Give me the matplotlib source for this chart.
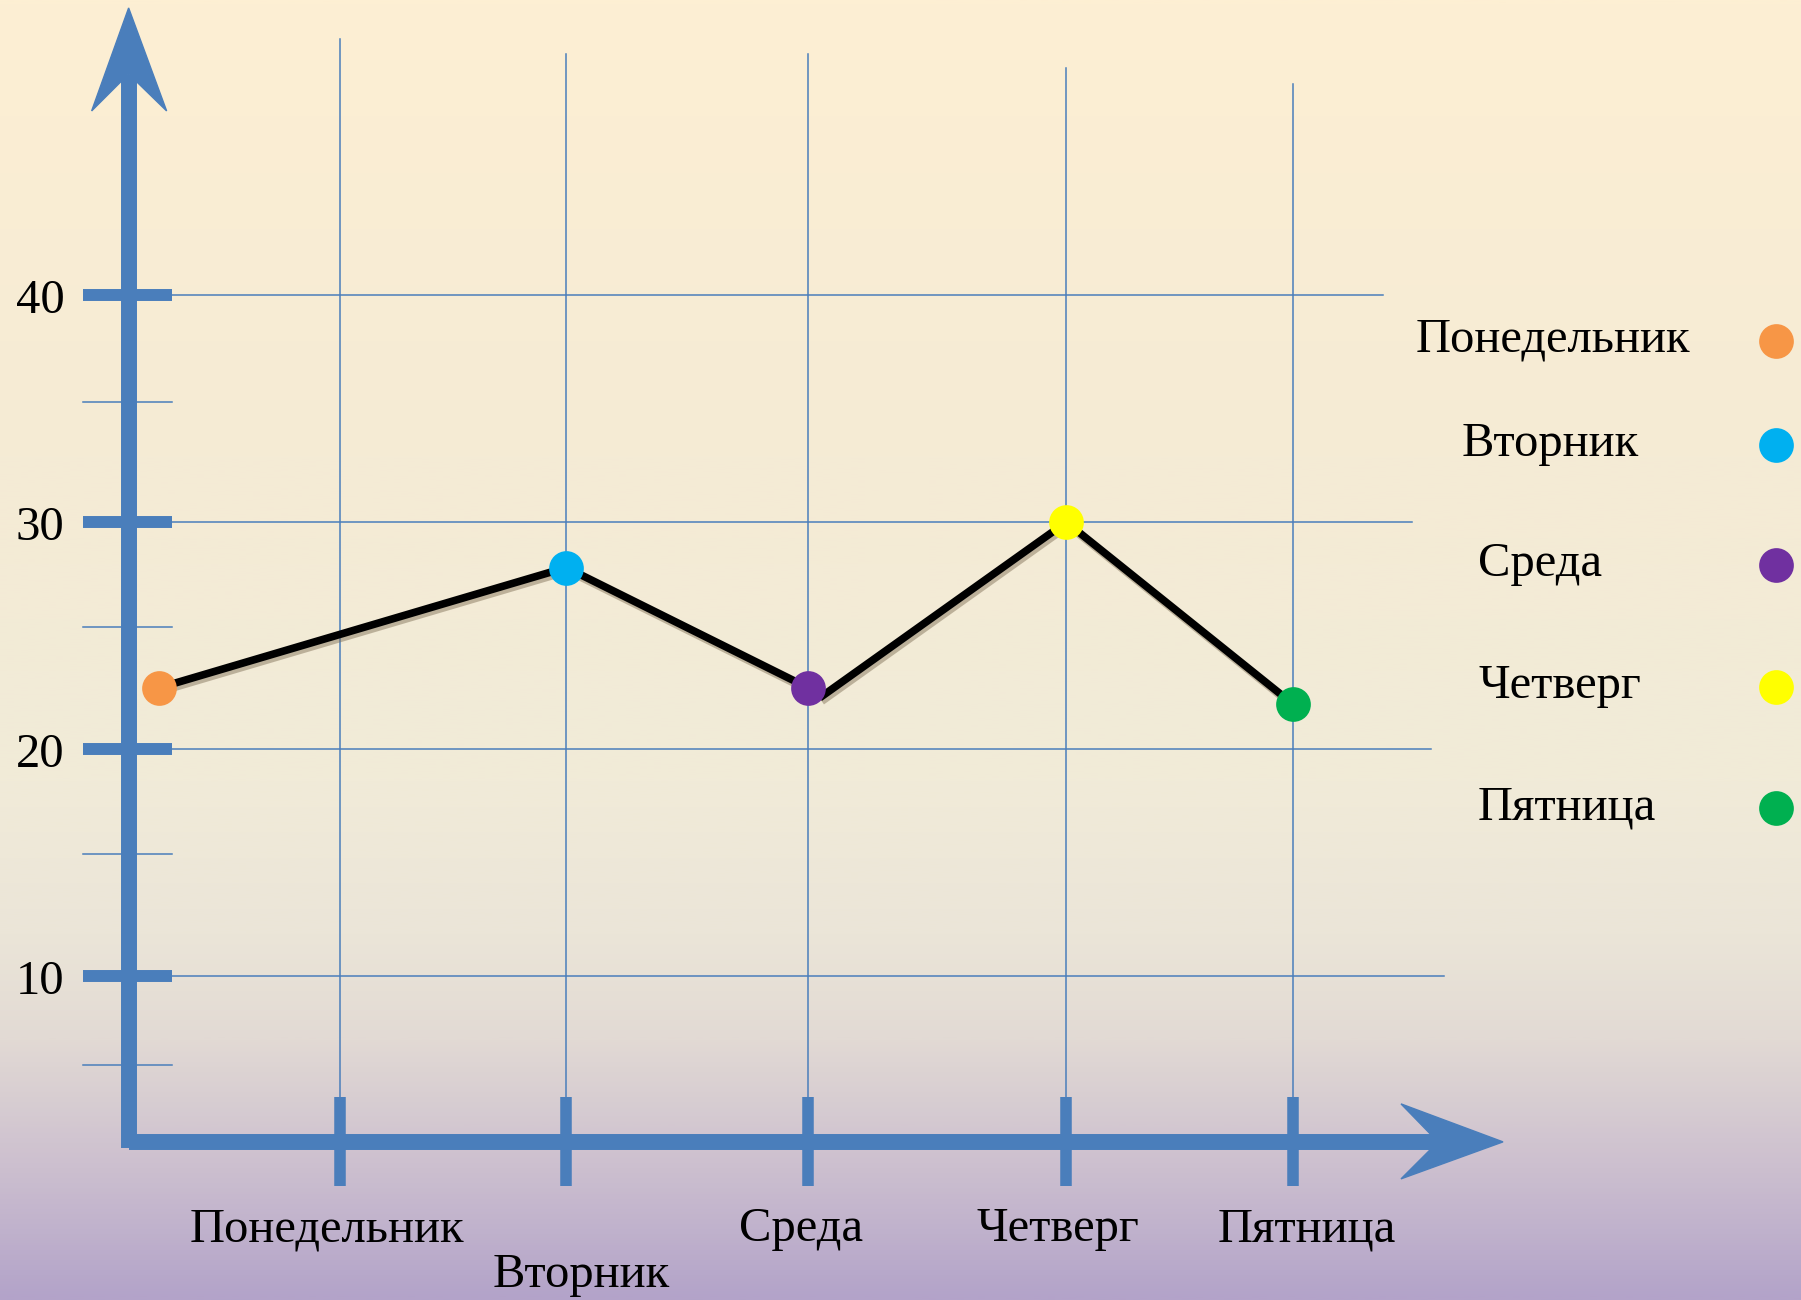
import numpy as np
import matplotlib.pyplot as plt
import matplotlib.patheffects as pe
from matplotlib.colors import LinearSegmentedColormap
from matplotlib.patches import Polygon
from matplotlib.transforms import IdentityTransform

plt.rcParams['font.family'] = ['Liberation Serif', 'DejaVu Serif']

# данные
days = ["Понедельник", "Вторник", "Среда", "Четверг", "Пятница"]
values = [22.7, 28.0, 22.7, 30.0, 22.0]
point_x = [0.2, 2.0, 3.07, 4.21, 5.21]
dot_colors = ["#F79646", "#00B0F0", "#7030A0", "#FFFF00", "#00B050"]

# линия рисовалась от руки: второй отрезок начинается чуть правее точки "Среда"
line1_x = [0.2, 2.0, 3.07]
line1_y = [22.7, 28.0, 22.7]
line2_x = [3.12, 4.21, 5.21]
line2_y = [22.26, 30.0, 22.0]

# сетка
grid_x = [1.0, 2.0, 3.07, 4.21, 5.21]
grid_top = [51.3, 50.6, 50.6, 50.0, 49.3]
y_major = [10, 20, 30, 40]
hgrid_end = [5.88, 5.82, 5.74, 5.61]
y_minor = [6.1, 15.4, 25.4, 35.3]

# подписи
label_x = [0.944, 2.066, 3.036, 4.173, 5.274]
label_y = [-1.15, -3.17, -1.15, -1.15, -1.15]
legend_text_x = [5.756, 5.959, 6.03, 6.03, 6.03]
legend_y = [38.0, 33.4, 28.1, 22.75, 17.4]

BLUE = "#4A7EBB"
FS = 35

fig = plt.figure(figsize=(18.01, 13.0), dpi=100)

# фон - градиент
bg = fig.add_axes([0, 0, 1, 1])
stops = [(0.0, "#FDEFD3"), (0.35, "#F5EBD5"), (0.6, "#F1EBD8"), (0.72, "#EBE5D8"),
         (0.8, "#E2DAD4"), (0.9, "#CCBFCF"), (1.0, "#B3A3C9")]
cmap = LinearSegmentedColormap.from_list("bg", stops)
bg.imshow(np.linspace(0, 1, 512).reshape(-1, 1), cmap=cmap, aspect="auto",
          extent=[0, 1, 0, 1], origin="upper")
bg.axis("off")

ax = fig.add_axes([0, 0, 1, 1])
ax.set_facecolor("none")
ax.set_xlim(-0.5025, 7.457)
ax.set_ylim(-4.265, 53.0)
ax.axis("off")

x0, y0 = 0.066, 2.7

# линии сетки
for gx, top in zip(grid_x, grid_top):
    ax.plot([gx, gx], [y0, top], color=BLUE, lw=1.1, zorder=1)
for gy, end in zip(y_major, hgrid_end):
    ax.plot([0.259, end], [gy, gy], color=BLUE, lw=1.1, zorder=1)

# деления
for gy in y_minor:
    ax.plot([-0.137, 0.259], [gy, gy], color=BLUE, lw=1.1, zorder=2)
for gy in y_major:
    ax.plot([-0.137, 0.259], [gy, gy], color=BLUE, lw=8.6, solid_capstyle="butt", zorder=2)
    ax.text(-0.325, gy - 0.25, str(gy), fontsize=FS, ha="center", va="center", zorder=5)
for gx in grid_x:
    ax.plot([gx, gx], [0.74, 4.69], color=BLUE, lw=8.3, solid_capstyle="butt", zorder=2)

# оси со стрелками
y_tip = 52.65
x_tip = 6.14
tx, ty = ax.transData.transform((x0, y_tip))
bx, by = ax.transData.transform((x0, y0))
rx, ry = ax.transData.transform((x_tip, y0))

ax.plot([bx, tx], [by - 6, ty - 67], color=BLUE, lw=11.5, solid_capstyle="butt",
        transform=IdentityTransform(), zorder=3)
ax.plot([bx, rx - 66], [by, ry], color=BLUE, lw=11.5, solid_capstyle="butt",
        transform=IdentityTransform(), zorder=3)
ax.add_patch(Polygon([(tx, ty), (tx + 38, ty - 103), (tx, ty - 66), (tx - 37, ty - 103)],
                     closed=True, color=BLUE, transform=IdentityTransform(), zorder=3.5))
ax.add_patch(Polygon([(rx, ry), (rx - 102, ry + 38), (rx - 65, ry), (rx - 102, ry - 37)],
                     closed=True, color=BLUE, transform=IdentityTransform(), zorder=3.5))

# линия графика
shadow = [pe.SimpleLineShadow(offset=(1.5, -2.5), shadow_color="#7a6a50", alpha=0.45),
          pe.Normal()]
for lx, ly in [(line1_x, line1_y), (line2_x, line2_y)]:
    ax.plot(lx, ly, color="black", lw=5.5, solid_capstyle="butt", solid_joinstyle="miter",
            path_effects=shadow, zorder=4)

for px_, v, c in zip(point_x, values, dot_colors):
    ax.plot(px_, v, "o", color=c, markersize=25, markeredgewidth=0, zorder=6)

# подписи дней
for d, lx, ly in zip(days, label_x, label_y):
    ax.text(lx, ly, d, fontsize=FS, ha="center", va="center")

# легенда
for d, lx, ly, c in zip(days, legend_text_x, legend_y, dot_colors):
    ax.text(lx, ly + 0.05, d, fontsize=FS, ha="left", va="center")
    ax.plot(7.345, ly, "o", color=c, markersize=25, markeredgewidth=0)

fig.savefig("out.png", dpi=100)
